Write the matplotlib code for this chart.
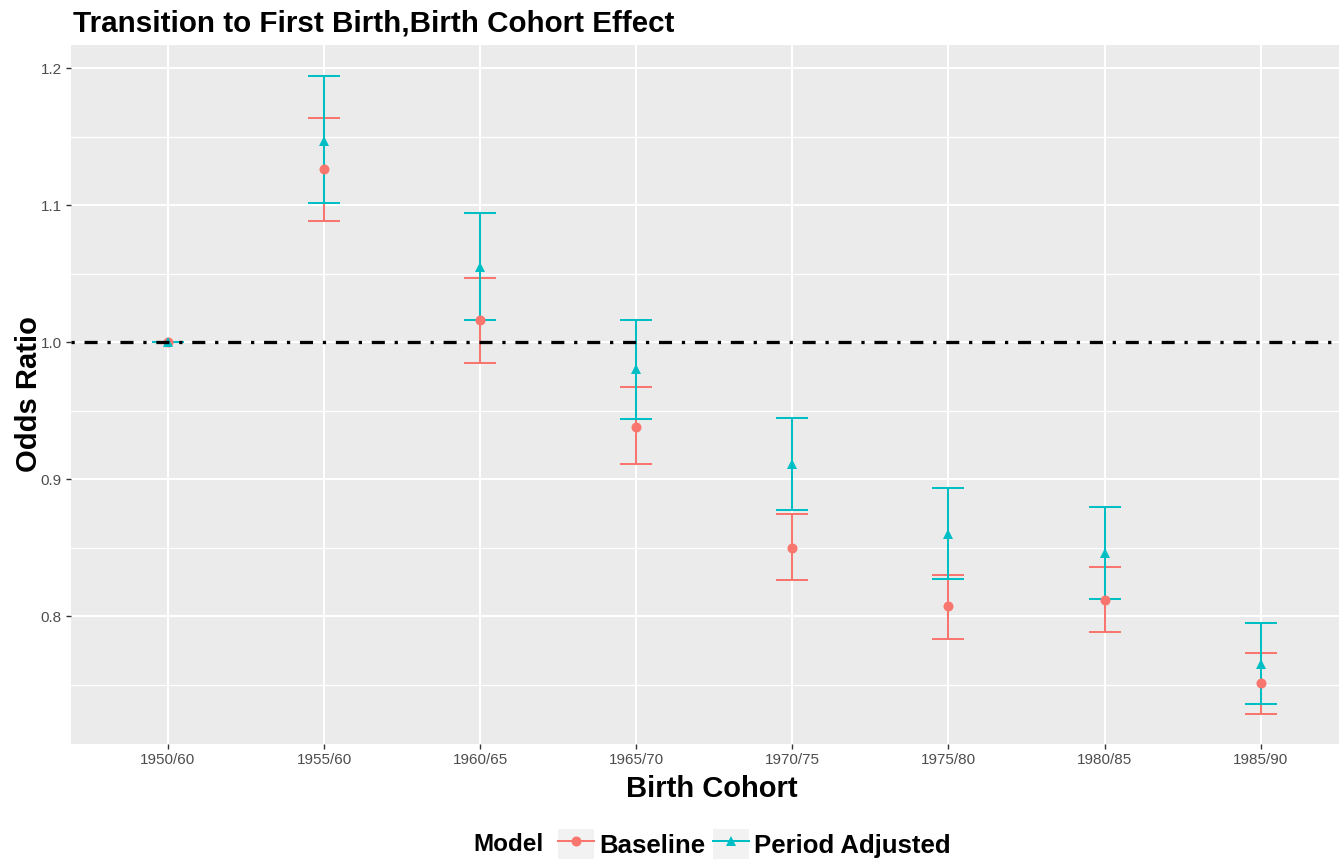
import matplotlib
matplotlib.use("Agg")
import matplotlib.pyplot as plt
from matplotlib.patches import Rectangle
from matplotlib.lines import Line2D
from matplotlib.legend_handler import HandlerTuple
import numpy as np

# ---- data ----
cohorts = ['1950/60', '1955/60', '1960/65', '1965/70', '1970/75', '1975/80', '1980/85', '1985/90']
base_or = [1.0, 1.126, 1.016, 0.938, 0.850, 0.807, 0.812, 0.751]
base_lo = [1.0, 1.088, 0.985, 0.911, 0.826, 0.783, 0.788, 0.7285]
base_hi = [1.0, 1.1635, 1.047, 0.967, 0.8745, 0.830, 0.836, 0.773]
adj_or = [1.0, 1.147, 1.055, 0.980, 0.911, 0.860, 0.846, 0.765]
adj_lo = [1.0, 1.1015, 1.016, 0.944, 0.8775, 0.827, 0.8125, 0.736]
adj_hi = [1.0, 1.194, 1.094, 1.016, 0.9445, 0.8935, 0.8795, 0.795]
y_major = [0.8, 0.9, 1.0, 1.1, 1.2]
y_minor = [0.75, 0.85, 0.95, 1.05, 1.15]
series_names = ['Baseline', 'Period Adjusted']

RED = '#F8766D'
CYAN = '#00BFC4'
FONT = 'Liberation Sans'
plt.rcParams['font.family'] = [FONT, 'DejaVu Sans']

W, H = 1339, 859
fig = plt.figure(figsize=(W / 100, H / 100), dpi=100)
ax = fig.add_axes([71 / W, 1 - 744 / H, (1339 - 71) / W, (744 - 45) / H])
ax.set_facecolor('#EBEBEB')
for s in ax.spines.values():
    s.set_visible(False)

x = np.arange(1, len(cohorts) + 1)
ax.set_xlim(0.379, 8.502)
ax.set_ylim(0.7066, 1.2168)

# grid
ax.set_xticks(x)
ax.set_xticklabels(cohorts)
ax.set_yticks(y_major)
ax.set_yticklabels([f'{v:.1f}' for v in y_major])
ax.set_yticks(y_minor, minor=True)
ax.grid(True, which='major', color='white', linewidth=1.45, zorder=0)
ax.grid(True, which='minor', axis='y', color='white', linewidth=0.9, zorder=0)
ax.set_axisbelow(True)
ax.tick_params(axis='both', which='major', length=3.6, width=1.0, color='#333333',
               labelcolor='#4D4D4D', labelsize=11, pad=3)
ax.tick_params(axis='y', which='minor', length=0)

# error bars
lw = 1.45
cap = 11.2
for mid, lo, hi, col, z in [(base_or, base_lo, base_hi, RED, 2), (adj_or, adj_lo, adj_hi, CYAN, 3)]:
    mid = np.array(mid); lo = np.array(lo); hi = np.array(hi)
    ax.errorbar(x, mid, yerr=[mid - lo, hi - mid], fmt='none', ecolor=col,
                elinewidth=lw, capsize=cap, capthick=lw, zorder=z)

ax.plot(x, base_or, linestyle='none', marker='o', markersize=7.2, color=RED,
        markeredgewidth=0, zorder=4)
ax.plot(x, adj_or, linestyle='none', marker='^', markersize=7.6, color=CYAN,
        markeredgewidth=0, zorder=5)

# reference line
ax.axhline(1.0, color='black', linewidth=2.35, linestyle=(0, (1, 3, 4, 3)), zorder=6)

# titles
fig.text(73 / W, 1 - 31 / H, 'Transition to First Birth,Birth Cohort Effect',
         fontsize=21.3, fontweight='bold', ha='left', va='baseline', family=FONT)
fig.text(712 / W, 1 - 797 / H, 'Birth Cohort', fontsize=21, fontweight='bold',
         ha='center', va='baseline', family=FONT)
fig.text(29 / W, 1 - 394.5 / H, 'Odds Ratio', fontsize=21, fontweight='bold',
         ha='center', va='center', rotation=90, family=FONT)

# legend
fig.text(473 / W, 1 - 851 / H, 'Model', fontsize=17.5, fontweight='bold',
         ha='left', va='baseline', family=FONT)
bg1 = Rectangle((0, 0), 1, 1, facecolor='#F2F2F2', edgecolor='none')
bg2 = Rectangle((0, 0), 1, 1, facecolor='#F2F2F2', edgecolor='none')
h1 = Line2D([], [], color=RED, lw=lw, marker='o', markersize=7.2, markeredgewidth=0)
h2 = Line2D([], [], color=CYAN, lw=lw, marker='^', markersize=7.6, markeredgewidth=0)
leg = fig.legend(handles=[(bg1, h1), (bg2, h2)], labels=series_names, ncol=2,
                 handler_map={tuple: HandlerTuple(ndivide=1, pad=0)},
                 loc='center', bbox_to_anchor=(754.5 / W, 1 - 844 / H),
                 frameon=False, handlelength=1.4, handleheight=1.4,
                 handletextpad=0.2, columnspacing=0.3, borderpad=0, borderaxespad=0,
                 numpoints=1, prop={'family': FONT, 'weight': 'bold', 'size': 18.5})

fig.savefig('out.png', dpi=100)
